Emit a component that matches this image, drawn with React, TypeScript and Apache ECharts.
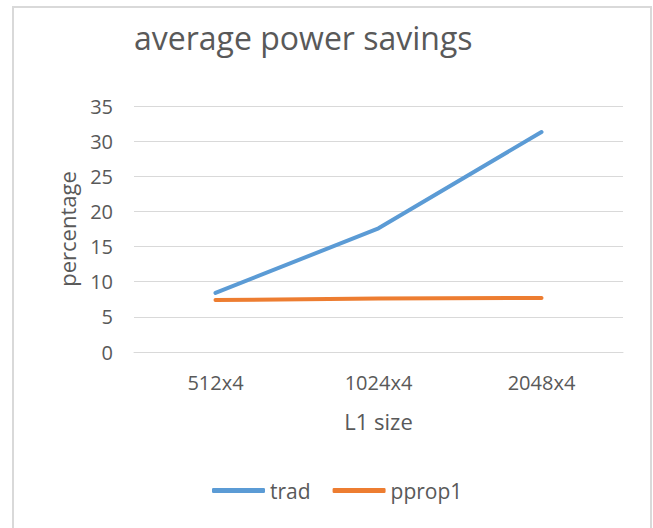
import React, { useEffect, useRef } from "react";
import * as echarts from "echarts";

const categories = ["512x4", "1024x4", "2048x4"];
const tradValues = [8.4, 17.6, 31.3];
const pprop1Values = [7.4, 7.6, 7.7];
const seriesNames = ["trad", "pprop1"];

export default function App() {
  const ref = useRef<HTMLDivElement>(null);
  useEffect(() => {
    if (!ref.current) return;
    const chart = echarts.init(ref.current, null, { renderer: "svg" });
    const font = "Open Sans";
    const textColor = "#595959";
    chart.setOption({
      animation: false,
      backgroundColor: "#ffffff",
      graphic: [
        {
          type: "rect",
          shape: { x: 13, y: 7, width: 638, height: 540 },
          style: { fill: "#ffffff", stroke: "#d9d9d9", lineWidth: 2 },
          z: -10,
          silent: true,
        },
      ],
      title: {
        text: "average power savings",
        left: 129,
        top: 16,
        textStyle: { fontFamily: font, fontSize: 32, fontWeight: "normal", color: textColor },
      },
      grid: { left: 134, right: 30, top: 106, bottom: 176, containLabel: false },
      legend: {
        data: seriesNames,
        bottom: 22,
        left: 207,
        icon: "roundRect",
        itemWidth: 53,
        itemHeight: 5,
        itemGap: 22,
        textStyle: { fontFamily: font, fontSize: 21, color: textColor },
      },
      xAxis: {
        type: "category",
        data: categories,
        boundaryGap: true,
        name: "L1 size",
        nameLocation: "middle",
        nameGap: 58,
        nameTextStyle: { fontFamily: font, fontSize: 22, color: textColor },
        axisLine: { lineStyle: { color: "#d9d9d9", width: 1 } },
        axisTick: { show: false },
        axisLabel: { fontFamily: font, fontSize: 20, color: textColor, margin: 20 },
      },
      yAxis: {
        type: "value",
        min: 0,
        max: 35,
        interval: 5,
        name: "percentage",
        nameLocation: "middle",
        nameGap: 56,
        nameTextStyle: { fontFamily: font, fontSize: 22, color: textColor },
        axisLine: { show: false },
        axisTick: { show: false },
        axisLabel: { fontFamily: font, fontSize: 20, color: textColor, margin: 21 },
        splitLine: { lineStyle: { color: "#d9d9d9", width: 1 } },
      },
      series: [
        {
          name: seriesNames[0],
          type: "line",
          data: tradValues,
          symbol: "none",
          lineStyle: { color: "#5B9BD5", width: 4, cap: "round", join: "round" },
          itemStyle: { color: "#5B9BD5" },
        },
        {
          name: seriesNames[1],
          type: "line",
          data: pprop1Values,
          symbol: "none",
          lineStyle: { color: "#ED7D31", width: 4, cap: "round", join: "round" },
          itemStyle: { color: "#ED7D31" },
        },
      ],
    });
    return () => chart.dispose();
  }, []);
  return (
    <div
      ref={ref}
      style={{ position: "fixed", left: 0, top: 0, width: 653, height: 528 }}
    />
  );
}
